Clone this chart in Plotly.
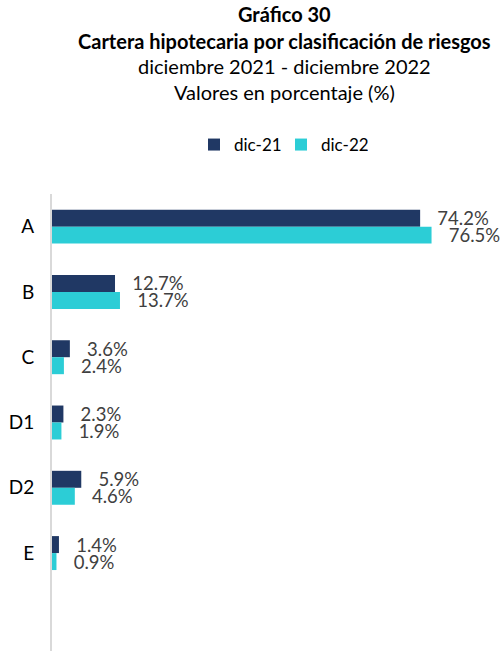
import plotly.graph_objects as go

categories = ["A", "B", "C", "D1", "D2", "E"]
dic21 = [74.2, 12.7, 3.6, 2.3, 5.9, 1.4]
dic22 = [76.5, 13.7, 2.4, 1.9, 4.6, 0.9]
series_names = ["dic-21", "dic-22"]
colors = ["#203864", "#2ccdd6"]
title_lines = ["<b>Gráfico 30</b>", "<b>Cartera hipotecaria por clasificación de riesgos</b>",
               "diciembre 2021 - diciembre 2022", "Valores en porcentaje (%)"]

FONT = "Lato"
W, H = 502, 651
T, B, L, R = 194, 0, 52, 0
ph = H - T - B
pw = W - L - R

def py(ypx):
    return 1 + (T - ypx) / ph

def px(xpx):
    return (xpx - L) / pw

fig = go.Figure()
pad = "\u00a0\u00a0\u00a0"
for name, vals, col in zip(series_names, [dic21, dic22], colors):
    fig.add_trace(go.Bar(
        y=categories, x=vals, name=name, orientation="h",
        marker=dict(color=col, line=dict(width=0)),
        text=[f"{pad}{v:.1f}%" for v in vals], textposition="outside",
        textfont=dict(family=FONT, size=18.5, color="#404040"),
        constraintext="none", cliponaxis=False, hoverinfo="skip",
    ))

anns = []
for txt, ypx in zip(title_lines, [14, 41, 66, 92]):
    anns.append(dict(text=txt, x=px(284), xref="paper", y=py(ypx), yref="paper",
                     xanchor="center", yanchor="middle", showarrow=False,
                     font=dict(family=FONT, size=20, color="#000000")))

fig.update_layout(
    width=W, height=H, margin=dict(l=L, r=R, t=T, b=B, autoexpand=False),
    paper_bgcolor="white", plot_bgcolor="white",
    barmode="group", bargap=0.48, bargroupgap=0,
    font=dict(family=FONT, size=16, color="#000000"),
    showlegend=True,
    legend=dict(orientation="h", x=px(194), xanchor="left",
                y=py(145), yanchor="middle", font=dict(family=FONT, size=17, color="#000000"),
                itemwidth=30, entrywidth=42, traceorder="normal"),
    annotations=anns,
    xaxis=dict(range=[0, 90.7], visible=False, showgrid=False, zeroline=False),
    yaxis=dict(categoryorder="array", categoryarray=categories, range=[6.5, -0.5],
               automargin=False,
               showgrid=False, zeroline=False, showline=True, linecolor="#d9d9d9", linewidth=2,
               ticks="", ticklabelstandoff=12, tickfont=dict(family=FONT, size=19, color="#000000")),
)
fig.write_html("out.html", config={"displayModeBar": False},
               post_script="document.body.style.margin='0';document.body.style.overflow='hidden';")
